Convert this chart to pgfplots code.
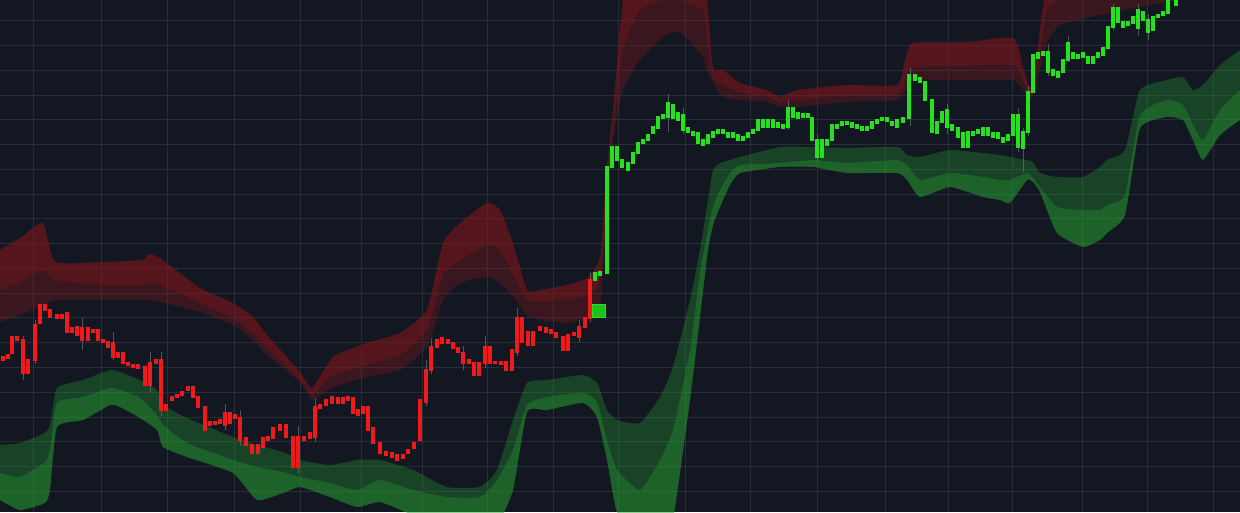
\documentclass[border=0pt]{standalone}
\usepackage{pgfplots}
\pgfplotsset{compat=1.18}
\usepackage{pgfplotstable}
\usepgfplotslibrary{fillbetween}
\definecolor{bg}{RGB}{19,23,34}
\definecolor{gridc}{RGB}{40,45,57}
\definecolor{bandred}{RGB}{150,20,25}
\definecolor{bandgreen}{RGB}{40,170,50}
\definecolor{candred}{RGB}{240,26,26}
\definecolor{candgreen}{RGB}{36,226,30}
\definecolor{wickc}{RGB}{105,105,118}

% upper (red) band: x, top edge, middle line, bottom edge (screen rows)
\pgfplotstableread{
x T M B
0 250 290 322
20 238 282 315
43 223 270 305
55 262 280 300
100 262 285 300
143 260 285 300
148 254 282 300
160 258 285 302
200 288 303 312
233 303 318 325
253 317 333 340
267 335 348 355
300 372 380 382
312 388 395 400
333 357 375 387
367 343 365 377
400 333 355 370
427 310 330 347
443 243 275 300
460 223 260 283
487 203 245 277
500 210 250 283
513 243 275 297
527 290 300 315
540 290 302 320
567 285 300 323
587 278 295 318
600 257 280 313
607 167 190 200
613 110 130 140
623 0 50 90
640 -60 10 60
663 -60 0 37
680 -60 0 32
703 -60 10 57
707 0 40 70
713 67 78 83
723 70 85 97
740 83 92 100
767 90 97 102
780 97 102 107
797 90 100 107
847 85 95 102
897 85 95 100
905 60 80 92
913 43 67 80
967 42 66 80
1013 38 65 80
1023 67 80 90
1030 88 95 100
1036 60 75 88
1040 30 50 70
1047 -20 10 43
1060 -30 0 25
1100 -30 -5 15
1150 -30 -10 5
1180 -30 -15 0
1240 -30 -20 -5
}\redband

% lower (green) band
\pgfplotstableread{
x T M B
0 445 473 500
20 443 477 510
45 433 462 503
50 425 450 490
57 388 403 427
83 380 397 420
110 370 388 405
120 372 390 407
140 380 398 418
157 390 415 430
163 405 425 447
187 418 443 457
233 437 460 473
257 445 467 500
283 452 472 493
300 460 477 487
330 465 483 497
357 460 490 507
380 460 480 502
413 470 490 515
447 487 497 525
480 487 497 525
497 470 480 525
513 420 450 490
527 383 405 412
547 380 397 410
583 375 393 403
597 383 402 417
607 410 440 460
617 420 470 512
640 423 490 540
660 397 460 560
673 367 430 520
690 300 350 400
700 250 273 317
708 200 230 250
713 170 207 225
720 163 190 207
730 160 173 185
740 157 165 173
780 147 163 167
813 147 160 167
847 148 163 173
897 147 160 173
907 155 165 180
920 157 180 197
950 150 173 187
983 153 177 197
1000 155 180 200
1010 157 180 203
1027 160 173 180
1033 162 178 182
1040 173 187 192
1057 177 207 233
1083 177 210 247
1100 167 210 240
1107 160 205 233
1125 150 195 215
1140 90 115 128
1167 80 100 117
1183 77 105 120
1193 90 125 140
1203 85 140 160
1220 65 110 135
1240 50 90 120
}\greenband

% red candles: x, body top row, body bottom row
\pgfplotstableread{
x a b
3 357 360
8 355 358
12 337 353
17 337 340
23 340 373
28 360 373
35 325 360
40 305 323
45 305 310
50 310 317
57 315 318
62 315 318
67 313 332
72 328 332
77 327 335
82 328 340
88 328 340
93 330 332
98 330 340
103 340 342
108 342 347
113 343 357
118 353 357
123 353 363
128 363 365
133 365 367
138 365 368
145 367 385
150 363 385
156 360 363
161 360 410
166 405 410
172 397 400
177 395 397
182 392 395
188 387 390
193 387 397
198 397 407
205 407 430
210 422 425
215 422 424
220 420 423
225 413 425
230 413 423
235 415 418
240 418 440
246 438 445
252 445 453
258 445 453
263 438 447
268 437 440
273 428 438
280 425 430
286 425 437
293 437 467
298 437 467
304 437 440
310 433 438
315 407 437
320 405 408
326 400 405
332 397 403
338 398 403
343 398 403
348 397 400
353 398 413
358 410 415
363 407 413
368 407 430
373 428 443
380 443 453
386 452 455
392 453 457
397 455 460
403 455 458
408 450 453
414 443 448
420 400 440
426 370 402
431 347 370
437 340 347
442 338 343
448 340 343
453 343 348
458 348 352
463 353 363
469 360 363
474 363 375
479 363 375
485 347 363
490 347 363
495 362 363
501 362 364
506 362 370
512 350 370
517 318 352
522 318 342
528 332 345
533 332 345
540 327 330
546 328 332
551 330 333
556 333 337
563 337 350
568 335 350
574 333 335
579 327 337
585 318 327
590 280 318
}\redcandles

% green candles
\pgfplotstableread{
x a b
595 273 280
600 272 275
607 167 273
612 147 167
617 147 160
622 160 167
628 163 170
633 153 163
638 143 153
643 140 143
648 135 140
653 127 133
658 117 128
663 115 118
668 103 117
673 105 118
678 113 120
683 115 130
688 128 132
693 132 135
698 133 143
703 140 145
708 135 143
713 132 137
718 130 133
723 130 133
728 133 137
733 133 137
738 135 140
743 137 140
748 133 137
753 130 133
758 120 130
763 120 127
768 120 127
773 120 127
778 123 127
783 125 128
788 108 127
793 108 117
798 113 118
803 114 117
808 114 117
812 118 140
817 140 157
822 140 157
827 140 145
832 125 140
837 125 128
842 122 125
847 122 124
852 123 127
857 125 128
862 127 130
867 127 130
872 122 128
877 120 123
882 118 120
887 118 121
892 122 125
897 120 127
903 118 122
909 75 118
915 75 80
920 78 82
925 82 100
932 100 132
937 122 133
942 112 122
947 110 127
952 125 130
958 128 137
963 133 147
968 132 147
973 132 135
978 130 133
983 128 135
988 128 135
993 133 137
998 133 138
1003 138 142
1008 135 140
1013 115 135
1018 115 147
1023 132 148
1028 92 132
1033 55 92
1038 53 58
1043 52 55
1048 52 72
1053 70 75
1058 72 77
1063 60 72
1068 43 60
1073 53 58
1078 55 58
1083 53 57
1088 57 63
1093 57 63
1098 53 57
1103 48 55
1108 27 48
1113 8 27
1118 8 22
1123 22 27
1128 22 25
1133 17 23
1138 10 28
1143 12 20
1148 20 32
1153 17 30
1158 15 17
1163 12 15
1168 0 13
1176 -10 5
}\greencandles

% faint wicks: x, high row, low row
\pgfplotstableread{
x h l
23 336 380
35 320 364
82 318 350
113 332 360
150 352 392
161 352 416
225 404 430
240 410 446
298 426 474
315 398 442
426 360 406
431 338 374
463 346 370
485 336 368
517 308 356
579 320 342
590 272 322
668 94 132
683 108 134
788 100 130
817 134 162
910 68 126
947 104 134
1018 108 152
1023 128 172
1028 86 136
1048 44 76
1068 36 62
1113 4 30
1138 4 36
1148 14 40
}\wicks

\begin{document}
\begin{tikzpicture}
\begin{axis}[
  name=ax,
  width=1240pt, height=512pt, scale only axis,
  xmin=0, xmax=1240, ymin=0, ymax=512,
  y dir=reverse,
  axis background/.style={fill=bg},
  axis line style={draw=none},
  xtick={33,101,167,234,300,361,422,487,553,618,685,750,817,885,948,1012,1082,1147,1213},
  ytick={21,45.75,...,495},
  xticklabels={}, yticklabels={},
  major tick length=0pt,
  grid=major,
  major grid style={draw=gridc, line width=1pt},
  clip=true,
]
% red band
\addplot[draw=none, smooth, tension=0.3, name path=rT] table[x=x, y=T] {\redband};
\addplot[draw=none, smooth, tension=0.3, name path=rM] table[x=x, y=M] {\redband};
\addplot[draw=none, smooth, tension=0.3, name path=rB] table[x=x, y=B] {\redband};
\addplot[fill=bandred, fill opacity=0.3, draw=none] fill between[of=rT and rB];
\addplot[fill=bandred, fill opacity=0.3, draw=none] fill between[of=rT and rM];
% green band
\addplot[draw=none, smooth, tension=0.3, name path=gT] table[x=x, y=T] {\greenband};
\addplot[draw=none, smooth, tension=0.3, name path=gM] table[x=x, y=M] {\greenband};
\addplot[draw=none, smooth, tension=0.3, name path=gB] table[x=x, y=B] {\greenband};
\addplot[fill=bandgreen, fill opacity=0.3, draw=none] fill between[of=gT and gB];
\addplot[fill=bandgreen, fill opacity=0.3, draw=none] fill between[of=gM and gB];
% wicks
\addplot[wickc, line width=0.9pt, opacity=0.75, -,
  quiver={u=0, v={\thisrow{l}-\thisrow{h}}}]
  table[x=x, y=h] {\wicks};
% candles (bodies drawn as vertical segments from top row to bottom row)
\addplot[candred, line width=4.7pt, line cap=butt, -,
  quiver={u=0, v={\thisrow{b}-\thisrow{a}+1.8}}]
  table[x=x, y expr={\thisrow{a}-0.9}] {\redcandles};
\addplot[candgreen, line width=4.7pt, line cap=butt, -,
  quiver={u=0, v={\thisrow{b}-\thisrow{a}+1.8}}]
  table[x=x, y expr={\thisrow{a}-0.9}] {\greencandles};
% marker square
\addplot[only marks, mark=square*, mark size=6.5pt,
  mark options={fill=candgreen!85!black, draw=candgreen, line width=1pt}]
  coordinates {(599,311)};
\end{axis}
\pgfresetboundingbox
\path[use as bounding box] (ax.south west) rectangle (ax.north east);
\end{tikzpicture}
\end{document}
